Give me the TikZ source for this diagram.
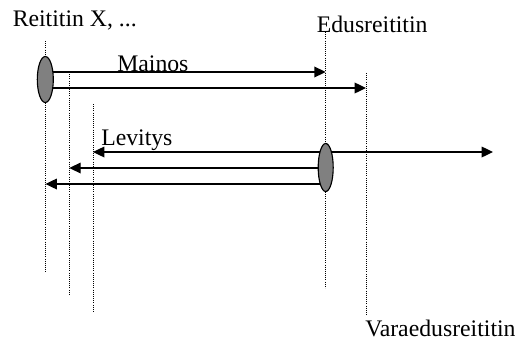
\documentclass[tikz,border=0pt]{standalone}
\usepackage{fontspec}
\setmainfont{Liberation Serif}
\usetikzlibrary{arrows.meta,shapes.geometric}

\tikzset{
  lifeline/.style={densely dotted, line width=0.6pt},
  msg/.style={line width=0.95pt, -{Triangle[length=8.5pt,width=8pt]}},
  actbox/.style={ellipse, draw, line width=0.85pt, inner sep=0pt,
    fill={rgb,255:red,128;green,128;blue,128}},
  lbl/.style={anchor=base west, inner sep=0pt, font=\fontsize{17.8}{21}\selectfont}
}

\begin{document}
\begin{tikzpicture}[x=0.75pt,y=0.75pt,yscale=-1,xscale=1]
\useasboundingbox (0,0) rectangle (520,343);

% Text Node
\node[lbl] (rx) at (12.5,26) {Reititin X, ...};
% Text Node
\node[lbl] (edus) at (316.5,32.5) {Edusreititin};
% Text Node
\node[lbl] (vara) at (365,336) {Varaedusreititin};
% Text Node
\node[lbl] (mainos) at (117,71.5) {Mainos};
% Text Node
\node[lbl] (levitys) at (101,145) {Levitys};

% Lifelines
\coordinate (xtop) at (45.5,41);   \coordinate (xbot) at (45.5,272);
\coordinate (ytop) at (69.3,72);   \coordinate (ybot) at (69.3,294);
\coordinate (ztop) at (93,104);    \coordinate (zbot) at (93,311);
\coordinate (etop) at (325.7,32);  \coordinate (ebot) at (325.7,288);
\coordinate (vtop) at (366,73);    \coordinate (vbot) at (366,315);
\draw[lifeline] (xtop) -- (xbot);
\draw[lifeline] (ytop) -- (ybot);
\draw[lifeline] (ztop) -- (zbot);
\draw[lifeline] (etop) -- (ebot);
\draw[lifeline] (vtop) -- (vbot);

% Mainos
\coordinate (ma1) at (45.5,72);   \coordinate (mb1) at (325.7,72);
\coordinate (ma2) at (45.5,88);   \coordinate (mb2) at (366,88);
\draw[msg] (ma1) -- (mb1);
\draw[msg] (ma2) -- (mb2);

% Levitys
\coordinate (la1) at (325.7,152); \coordinate (lb1) at (93,152);
\coordinate (la2) at (325.7,168); \coordinate (lb2) at (69.3,168);
\coordinate (la3) at (325.7,184); \coordinate (lb3) at (45.5,184);
\coordinate (lout) at (493,152);
\draw[msg] (la1) -- (lb1);
\draw[msg] (la2) -- (lb2);
\draw[msg] (la3) -- (lb3);
\draw[msg] (la1) -- (lout);

% Shape: Ellipse
\node[actbox, minimum width=12pt, minimum height=34.5pt] (xact) at (45.3,79.5) {};
% Shape: Ellipse
\node[actbox, minimum width=11.25pt, minimum height=36pt] (eact) at (325.7,167.5) {};

\end{tikzpicture}
\end{document}
